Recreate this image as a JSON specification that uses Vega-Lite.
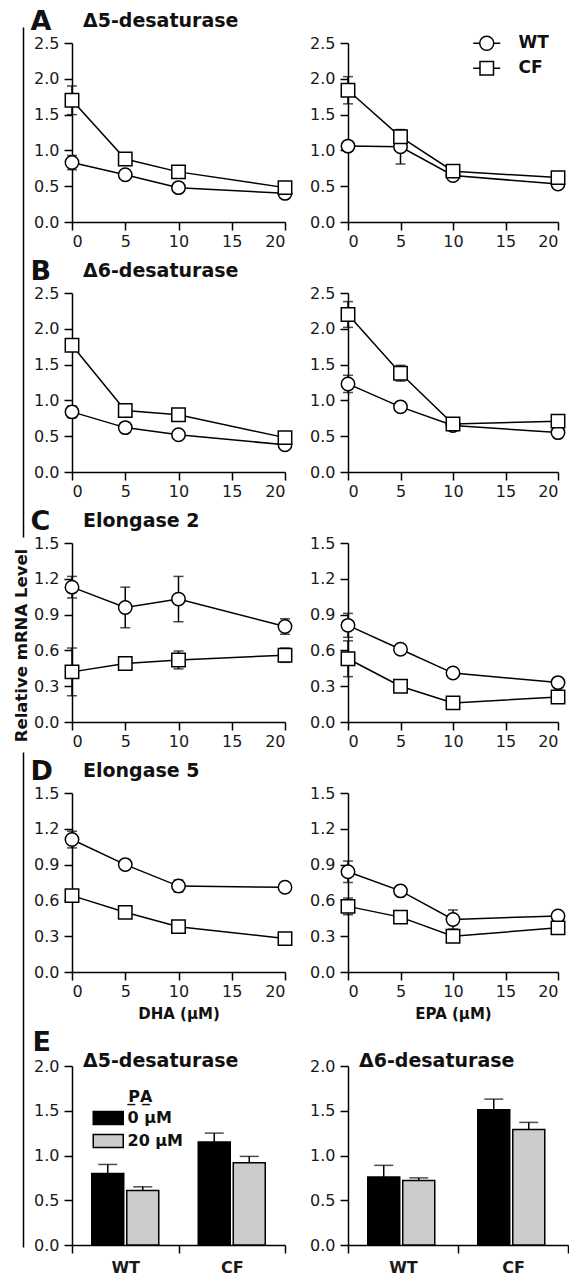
{
  "$schema": "https://vega.github.io/schema/vega-lite/v6.json",
  "background": "white",
  "padding": {"left": 13, "top": 7, "right": 0, "bottom": 0},
  "config": {
    "font": "DejaVu Sans",
    "view": {"stroke": null},
    "axis": {
      "labelFont": "DejaVu Sans", "labelFontSize": 16, "labelColor": "#1a1a1a",
      "titleFont": "DejaVu Sans", "titleColor": "#111111",
      "domainColor": "black", "domainWidth": 1.5,
      "tickColor": "black", "tickWidth": 1.5, "tickSize": 8, "grid": false
    },
    "axisX": {"labelPadding": 3},
    "axisY": {"labelPadding": 5},
    "title": {"font": "DejaVu Sans", "fontSize": 19, "fontWeight": "bold", "color": "#111111", "anchor": "start", "frame": "group", "baseline": "alphabetic"}
  },
  "datasets": {
    "lines": [
      {"gene": "Δ5-desaturase", "fa": "DHA", "cell": "WT", "conc": 0, "mean": 0.83, "err": 0.10},
      {"gene": "Δ5-desaturase", "fa": "DHA", "cell": "WT", "conc": 5, "mean": 0.66, "err": 0.03},
      {"gene": "Δ5-desaturase", "fa": "DHA", "cell": "WT", "conc": 10, "mean": 0.48, "err": 0.03},
      {"gene": "Δ5-desaturase", "fa": "DHA", "cell": "WT", "conc": 20, "mean": 0.40, "err": 0.02},
      {"gene": "Δ5-desaturase", "fa": "DHA", "cell": "CF", "conc": 0, "mean": 1.70, "err": 0.20},
      {"gene": "Δ5-desaturase", "fa": "DHA", "cell": "CF", "conc": 5, "mean": 0.88, "err": 0.04},
      {"gene": "Δ5-desaturase", "fa": "DHA", "cell": "CF", "conc": 10, "mean": 0.70, "err": 0.03},
      {"gene": "Δ5-desaturase", "fa": "DHA", "cell": "CF", "conc": 20, "mean": 0.48, "err": 0.03},
      {"gene": "Δ5-desaturase", "fa": "EPA", "cell": "WT", "conc": 0, "mean": 1.06, "err": 0.05},
      {"gene": "Δ5-desaturase", "fa": "EPA", "cell": "WT", "conc": 5, "mean": 1.05, "err": 0.24},
      {"gene": "Δ5-desaturase", "fa": "EPA", "cell": "WT", "conc": 10, "mean": 0.65, "err": 0.03},
      {"gene": "Δ5-desaturase", "fa": "EPA", "cell": "WT", "conc": 20, "mean": 0.53, "err": 0.02},
      {"gene": "Δ5-desaturase", "fa": "EPA", "cell": "CF", "conc": 0, "mean": 1.84, "err": 0.19},
      {"gene": "Δ5-desaturase", "fa": "EPA", "cell": "CF", "conc": 5, "mean": 1.19, "err": 0.10},
      {"gene": "Δ5-desaturase", "fa": "EPA", "cell": "CF", "conc": 10, "mean": 0.71, "err": 0.03},
      {"gene": "Δ5-desaturase", "fa": "EPA", "cell": "CF", "conc": 20, "mean": 0.62, "err": 0.03},
      {"gene": "Δ6-desaturase", "fa": "DHA", "cell": "WT", "conc": 0, "mean": 0.84, "err": 0.08},
      {"gene": "Δ6-desaturase", "fa": "DHA", "cell": "WT", "conc": 5, "mean": 0.62, "err": 0.03},
      {"gene": "Δ6-desaturase", "fa": "DHA", "cell": "WT", "conc": 10, "mean": 0.52, "err": 0.02},
      {"gene": "Δ6-desaturase", "fa": "DHA", "cell": "WT", "conc": 20, "mean": 0.38, "err": 0.02},
      {"gene": "Δ6-desaturase", "fa": "DHA", "cell": "CF", "conc": 0, "mean": 1.77, "err": 0.07},
      {"gene": "Δ6-desaturase", "fa": "DHA", "cell": "CF", "conc": 5, "mean": 0.86, "err": 0.03},
      {"gene": "Δ6-desaturase", "fa": "DHA", "cell": "CF", "conc": 10, "mean": 0.80, "err": 0.03},
      {"gene": "Δ6-desaturase", "fa": "DHA", "cell": "CF", "conc": 20, "mean": 0.48, "err": 0.03},
      {"gene": "Δ6-desaturase", "fa": "EPA", "cell": "WT", "conc": 0, "mean": 1.23, "err": 0.12},
      {"gene": "Δ6-desaturase", "fa": "EPA", "cell": "WT", "conc": 5, "mean": 0.91, "err": 0.03},
      {"gene": "Δ6-desaturase", "fa": "EPA", "cell": "WT", "conc": 10, "mean": 0.65, "err": 0.03},
      {"gene": "Δ6-desaturase", "fa": "EPA", "cell": "WT", "conc": 20, "mean": 0.55, "err": 0.02},
      {"gene": "Δ6-desaturase", "fa": "EPA", "cell": "CF", "conc": 0, "mean": 2.20, "err": 0.18},
      {"gene": "Δ6-desaturase", "fa": "EPA", "cell": "CF", "conc": 5, "mean": 1.38, "err": 0.11},
      {"gene": "Δ6-desaturase", "fa": "EPA", "cell": "CF", "conc": 10, "mean": 0.67, "err": 0.03},
      {"gene": "Δ6-desaturase", "fa": "EPA", "cell": "CF", "conc": 20, "mean": 0.71, "err": 0.03},
      {"gene": "Elongase 2", "fa": "DHA", "cell": "WT", "conc": 0, "mean": 1.13, "err": 0.09},
      {"gene": "Elongase 2", "fa": "DHA", "cell": "WT", "conc": 5, "mean": 0.96, "err": 0.17},
      {"gene": "Elongase 2", "fa": "DHA", "cell": "WT", "conc": 10, "mean": 1.03, "err": 0.19},
      {"gene": "Elongase 2", "fa": "DHA", "cell": "WT", "conc": 20, "mean": 0.80, "err": 0.065},
      {"gene": "Elongase 2", "fa": "DHA", "cell": "CF", "conc": 0, "mean": 0.42, "err": 0.20},
      {"gene": "Elongase 2", "fa": "DHA", "cell": "CF", "conc": 5, "mean": 0.49, "err": 0.03},
      {"gene": "Elongase 2", "fa": "DHA", "cell": "CF", "conc": 10, "mean": 0.52, "err": 0.075},
      {"gene": "Elongase 2", "fa": "DHA", "cell": "CF", "conc": 20, "mean": 0.56, "err": 0.06},
      {"gene": "Elongase 2", "fa": "EPA", "cell": "WT", "conc": 0, "mean": 0.81, "err": 0.10},
      {"gene": "Elongase 2", "fa": "EPA", "cell": "WT", "conc": 5, "mean": 0.61, "err": 0.03},
      {"gene": "Elongase 2", "fa": "EPA", "cell": "WT", "conc": 10, "mean": 0.41, "err": 0.03},
      {"gene": "Elongase 2", "fa": "EPA", "cell": "WT", "conc": 20, "mean": 0.33, "err": 0.03},
      {"gene": "Elongase 2", "fa": "EPA", "cell": "CF", "conc": 0, "mean": 0.53, "err": 0.15},
      {"gene": "Elongase 2", "fa": "EPA", "cell": "CF", "conc": 5, "mean": 0.30, "err": 0.05},
      {"gene": "Elongase 2", "fa": "EPA", "cell": "CF", "conc": 10, "mean": 0.16, "err": 0.02},
      {"gene": "Elongase 2", "fa": "EPA", "cell": "CF", "conc": 20, "mean": 0.21, "err": 0.03},
      {"gene": "Elongase 5", "fa": "DHA", "cell": "WT", "conc": 0, "mean": 1.11, "err": 0.07},
      {"gene": "Elongase 5", "fa": "DHA", "cell": "WT", "conc": 5, "mean": 0.90, "err": 0.04},
      {"gene": "Elongase 5", "fa": "DHA", "cell": "WT", "conc": 10, "mean": 0.72, "err": 0.05},
      {"gene": "Elongase 5", "fa": "DHA", "cell": "WT", "conc": 20, "mean": 0.71, "err": 0.03},
      {"gene": "Elongase 5", "fa": "DHA", "cell": "CF", "conc": 0, "mean": 0.64, "err": 0.04},
      {"gene": "Elongase 5", "fa": "DHA", "cell": "CF", "conc": 5, "mean": 0.50, "err": 0.04},
      {"gene": "Elongase 5", "fa": "DHA", "cell": "CF", "conc": 10, "mean": 0.38, "err": 0.03},
      {"gene": "Elongase 5", "fa": "DHA", "cell": "CF", "conc": 20, "mean": 0.28, "err": 0.02},
      {"gene": "Elongase 5", "fa": "EPA", "cell": "WT", "conc": 0, "mean": 0.84, "err": 0.09},
      {"gene": "Elongase 5", "fa": "EPA", "cell": "WT", "conc": 5, "mean": 0.68, "err": 0.03},
      {"gene": "Elongase 5", "fa": "EPA", "cell": "WT", "conc": 10, "mean": 0.44, "err": 0.08},
      {"gene": "Elongase 5", "fa": "EPA", "cell": "WT", "conc": 20, "mean": 0.47, "err": 0.03},
      {"gene": "Elongase 5", "fa": "EPA", "cell": "CF", "conc": 0, "mean": 0.55, "err": 0.07},
      {"gene": "Elongase 5", "fa": "EPA", "cell": "CF", "conc": 5, "mean": 0.46, "err": 0.05},
      {"gene": "Elongase 5", "fa": "EPA", "cell": "CF", "conc": 10, "mean": 0.30, "err": 0.05},
      {"gene": "Elongase 5", "fa": "EPA", "cell": "CF", "conc": 20, "mean": 0.37, "err": 0.04}
    ],
    "bars": [
      {"gene": "Δ5-desaturase", "cell": "WT", "pa": "0 μM", "mean": 0.80, "err": 0.10},
      {"gene": "Δ5-desaturase", "cell": "WT", "pa": "20 μM", "mean": 0.61, "err": 0.04},
      {"gene": "Δ5-desaturase", "cell": "CF", "pa": "0 μM", "mean": 1.15, "err": 0.10},
      {"gene": "Δ5-desaturase", "cell": "CF", "pa": "20 μM", "mean": 0.92, "err": 0.07},
      {"gene": "Δ6-desaturase", "cell": "WT", "pa": "0 μM", "mean": 0.76, "err": 0.13},
      {"gene": "Δ6-desaturase", "cell": "WT", "pa": "20 μM", "mean": 0.72, "err": 0.03},
      {"gene": "Δ6-desaturase", "cell": "CF", "pa": "0 μM", "mean": 1.51, "err": 0.12},
      {"gene": "Δ6-desaturase", "cell": "CF", "pa": "20 μM", "mean": 1.29, "err": 0.08}
    ]
  },
  "columns": 2,
  "spacing": {"row": 71, "column": 63},
  "bounds": "flush",
  "align": "each",
  "resolve": {
    "scale": {"shape": "independent", "fill": "independent"},
    "legend": {"shape": "independent", "fill": "independent"}
  },
  "concat": [
    {
      "width": 213, "height": 179,
      "title": {"text": "Δ5-desaturase", "dx": 11, "offset": -24},
      "resolve": {"scale": {"y": "independent"}},
      "layer": [
        {
          "data": {"name": "lines"},
          "transform": [{"filter": "datum.gene === 'Δ5-desaturase' && datum.fa === 'DHA'"}],
          "encoding": {
            "x": {"field": "conc", "type": "quantitative", "scale": {"domain": [0, 20], "nice": false}, "axis": {"values": [0, 5, 10, 15, 20], "title": null}},
            "y": {"field": "mean", "type": "quantitative", "scale": {"domain": [0, 2.5], "nice": false}, "axis": {"values": [0, 0.5, 1, 1.5, 2, 2.5], "format": ".1f", "title": "A", "titleAngle": 0, "titleX": -42, "titleY": -14, "titleAlign": "left", "titleBaseline": "alphabetic", "titleFontSize": 27, "titleFontWeight": "bold"}}
          },
          "layer": [
            {"mark": {"type": "line", "color": "black", "strokeWidth": 1.5}, "encoding": {"detail": {"field": "cell"}}},
            {"mark": {"type": "errorbar", "ticks": true, "size": 10, "thickness": 1.5, "color": "black"}, "encoding": {"yError": {"field": "err"}, "detail": {"field": "cell"}}},
            {"mark": {"type": "point", "filled": true, "fill": "white", "stroke": "black", "strokeWidth": 1.5, "size": 180, "opacity": 1}, "encoding": {"shape": {"field": "cell", "type": "nominal", "scale": {"domain": ["WT", "CF"], "range": ["circle", "square"]}, "legend": null}}}
          ]
        },
        {
          "data": {"values": [{}]},
          "mark": {"type": "point", "opacity": 0, "size": 0},
          "encoding": {
            "y": {"datum": 0, "type": "quantitative", "scale": {"domain": [0, 1], "range": [1204, -16]}, "axis": {"orient": "left", "offset": 49, "labels": false, "ticks": false, "grid": false, "domainDash": [495, 215, 1000, 0], "domainWidth": 1.5, "title": "Relative mRNA Level", "titleFontSize": 16.5, "titleFontWeight": "bold", "titleAngle": 270, "titleX": -1.5, "titleY": 602, "titleAlign": "center", "titleBaseline": "middle"}}
          }
        }
      ]
    },
    {
      "width": 210, "height": 179,
      "resolve": {"scale": {"fill": "independent"}, "legend": {"fill": "independent"}},
      "layer": [
        {
          "data": {"name": "lines"},
          "transform": [{"filter": "datum.gene === 'Δ5-desaturase' && datum.fa === 'EPA'"}],
          "encoding": {
            "x": {"field": "conc", "type": "quantitative", "scale": {"domain": [0, 20], "nice": false}, "axis": {"values": [0, 5, 10, 15, 20], "title": null}},
            "y": {"field": "mean", "type": "quantitative", "scale": {"domain": [0, 2.5], "nice": false}, "axis": {"values": [0, 0.5, 1, 1.5, 2, 2.5], "format": ".1f", "title": null}}
          },
          "layer": [
            {"mark": {"type": "line", "color": "black", "strokeWidth": 1.5}, "encoding": {"detail": {"field": "cell"}}},
            {"mark": {"type": "errorbar", "ticks": true, "size": 10, "thickness": 1.5, "color": "black"}, "encoding": {"yError": {"field": "err"}, "detail": {"field": "cell"}}},
            {"mark": {"type": "point", "filled": true, "fill": "white", "stroke": "black", "strokeWidth": 1.5, "size": 180, "opacity": 1}, "encoding": {"shape": {"field": "cell", "type": "nominal", "scale": {"domain": ["WT", "CF"], "range": ["circle", "square"]}, "legend": null}}}
          ]
        },
        {
          "data": {"name": "lines"},
          "transform": [{"filter": "false"}],
          "mark": {"type": "bar", "stroke": "black", "strokeWidth": 1.5},
          "encoding": {
            "fill": {"field": "cell", "type": "nominal", "scale": {"domain": ["WT"], "range": ["white"]},
              "legend": {"orient": "none", "legendX": 124.25, "legendY": -14.25, "title": null, "padding": 0, "symbolSize": 729, "symbolType": "M-1,0L-0.52,0M0.52,0L1,0M-0.52,0A0.52,0.52,0,1,0,0.52,0A0.52,0.52,0,1,0,-0.52,0Z", "symbolStrokeWidth": 1.5, "symbolStrokeColor": "black", "labelFont": "DejaVu Sans", "labelFontSize": 17, "labelFontWeight": "bold", "labelColor": "#111111", "labelOffset": 17.25,
                "encode": {"symbols": {"update": {"shape": {"value": "M-1,0L-0.52,0M0.52,0L1,0M-0.52,0A0.52,0.52,0,1,0,0.52,0A0.52,0.52,0,1,0,-0.52,0Z"}, "stroke": {"value": "black"}, "strokeWidth": {"value": 1.5}, "opacity": {"value": 1}}}}}}
          }
        },
        {
          "data": {"name": "lines"},
          "transform": [{"filter": "false"}],
          "mark": {"type": "bar", "stroke": "black", "strokeWidth": 1.5},
          "encoding": {
            "fill": {"field": "cell", "type": "nominal", "scale": {"domain": ["CF"], "range": ["white"]},
              "legend": {"orient": "none", "legendX": 124.25, "legendY": 10.75, "title": null, "padding": 0, "symbolSize": 729, "symbolType": "M-1,0L-0.5,0M0.5,0L1,0M-0.5,-0.5L0.5,-0.5L0.5,0.5L-0.5,0.5Z", "symbolStrokeWidth": 1.5, "symbolStrokeColor": "black", "labelFont": "DejaVu Sans", "labelFontSize": 17, "labelFontWeight": "bold", "labelColor": "#111111", "labelOffset": 17.25,
                "encode": {"symbols": {"update": {"shape": {"value": "M-1,0L-0.5,0M0.5,0L1,0M-0.5,-0.5L0.5,-0.5L0.5,0.5L-0.5,0.5Z"}, "stroke": {"value": "black"}, "strokeWidth": {"value": 1.5}, "opacity": {"value": 1}}}}}}
          }
        }
      ]
    },
    {
      "width": 213, "height": 179,
      "title": {"text": "Δ6-desaturase", "dx": 11, "offset": -24},
      "data": {"name": "lines"},
      "transform": [{"filter": "datum.gene === 'Δ6-desaturase' && datum.fa === 'DHA'"}],
      "encoding": {
        "x": {"field": "conc", "type": "quantitative", "scale": {"domain": [0, 20], "nice": false}, "axis": {"values": [0, 5, 10, 15, 20], "title": null}},
        "y": {"field": "mean", "type": "quantitative", "scale": {"domain": [0, 2.5], "nice": false}, "axis": {"values": [0, 0.5, 1, 1.5, 2, 2.5], "format": ".1f", "title": "B", "titleAngle": 0, "titleX": -42, "titleY": -14, "titleAlign": "left", "titleBaseline": "alphabetic", "titleFontSize": 27, "titleFontWeight": "bold"}}
      },
      "layer": [
        {"mark": {"type": "line", "color": "black", "strokeWidth": 1.5}, "encoding": {"detail": {"field": "cell"}}},
        {"mark": {"type": "errorbar", "ticks": true, "size": 10, "thickness": 1.5, "color": "black"}, "encoding": {"yError": {"field": "err"}, "detail": {"field": "cell"}}},
        {"mark": {"type": "point", "filled": true, "fill": "white", "stroke": "black", "strokeWidth": 1.5, "size": 180, "opacity": 1}, "encoding": {"shape": {"field": "cell", "type": "nominal", "scale": {"domain": ["WT", "CF"], "range": ["circle", "square"]}, "legend": null}}}
      ]
    },
    {
      "width": 210, "height": 179,
      "data": {"name": "lines"},
      "transform": [{"filter": "datum.gene === 'Δ6-desaturase' && datum.fa === 'EPA'"}],
      "encoding": {
        "x": {"field": "conc", "type": "quantitative", "scale": {"domain": [0, 20], "nice": false}, "axis": {"values": [0, 5, 10, 15, 20], "title": null}},
        "y": {"field": "mean", "type": "quantitative", "scale": {"domain": [0, 2.5], "nice": false}, "axis": {"values": [0, 0.5, 1, 1.5, 2, 2.5], "format": ".1f", "title": null}}
      },
      "layer": [
        {"mark": {"type": "line", "color": "black", "strokeWidth": 1.5}, "encoding": {"detail": {"field": "cell"}}},
        {"mark": {"type": "errorbar", "ticks": true, "size": 10, "thickness": 1.5, "color": "black"}, "encoding": {"yError": {"field": "err"}, "detail": {"field": "cell"}}},
        {"mark": {"type": "point", "filled": true, "fill": "white", "stroke": "black", "strokeWidth": 1.5, "size": 180, "opacity": 1}, "encoding": {"shape": {"field": "cell", "type": "nominal", "scale": {"domain": ["WT", "CF"], "range": ["circle", "square"]}, "legend": null}}}
      ]
    },
    {
      "width": 213, "height": 179,
      "title": {"text": "Elongase 2", "dx": 11, "offset": -24},
      "data": {"name": "lines"},
      "transform": [{"filter": "datum.gene === 'Elongase 2' && datum.fa === 'DHA'"}],
      "encoding": {
        "x": {"field": "conc", "type": "quantitative", "scale": {"domain": [0, 20], "nice": false}, "axis": {"values": [0, 5, 10, 15, 20], "title": null}},
        "y": {"field": "mean", "type": "quantitative", "scale": {"domain": [0, 1.5], "nice": false}, "axis": {"values": [0, 0.3, 0.6, 0.9, 1.2, 1.5], "format": ".1f", "title": "C", "titleAngle": 0, "titleX": -42, "titleY": -14, "titleAlign": "left", "titleBaseline": "alphabetic", "titleFontSize": 27, "titleFontWeight": "bold"}}
      },
      "layer": [
        {"mark": {"type": "line", "color": "black", "strokeWidth": 1.5}, "encoding": {"detail": {"field": "cell"}}},
        {"mark": {"type": "errorbar", "ticks": true, "size": 10, "thickness": 1.5, "color": "black"}, "encoding": {"yError": {"field": "err"}, "detail": {"field": "cell"}}},
        {"mark": {"type": "point", "filled": true, "fill": "white", "stroke": "black", "strokeWidth": 1.5, "size": 180, "opacity": 1}, "encoding": {"shape": {"field": "cell", "type": "nominal", "scale": {"domain": ["WT", "CF"], "range": ["circle", "square"]}, "legend": null}}}
      ]
    },
    {
      "width": 210, "height": 179,
      "data": {"name": "lines"},
      "transform": [{"filter": "datum.gene === 'Elongase 2' && datum.fa === 'EPA'"}],
      "encoding": {
        "x": {"field": "conc", "type": "quantitative", "scale": {"domain": [0, 20], "nice": false}, "axis": {"values": [0, 5, 10, 15, 20], "title": null}},
        "y": {"field": "mean", "type": "quantitative", "scale": {"domain": [0, 1.5], "nice": false}, "axis": {"values": [0, 0.3, 0.6, 0.9, 1.2, 1.5], "format": ".1f", "title": null}}
      },
      "layer": [
        {"mark": {"type": "line", "color": "black", "strokeWidth": 1.5}, "encoding": {"detail": {"field": "cell"}}},
        {"mark": {"type": "errorbar", "ticks": true, "size": 10, "thickness": 1.5, "color": "black"}, "encoding": {"yError": {"field": "err"}, "detail": {"field": "cell"}}},
        {"mark": {"type": "point", "filled": true, "fill": "white", "stroke": "black", "strokeWidth": 1.5, "size": 180, "opacity": 1}, "encoding": {"shape": {"field": "cell", "type": "nominal", "scale": {"domain": ["WT", "CF"], "range": ["circle", "square"]}, "legend": null}}}
      ]
    },
    {
      "width": 213, "height": 179,
      "title": {"text": "Elongase 5", "dx": 11, "offset": -24},
      "data": {"name": "lines"},
      "transform": [{"filter": "datum.gene === 'Elongase 5' && datum.fa === 'DHA'"}],
      "encoding": {
        "x": {"field": "conc", "type": "quantitative", "scale": {"domain": [0, 20], "nice": false}, "axis": {"values": [0, 5, 10, 15, 20], "title": "DHA (μM)", "titleFontSize": 15, "titleFontWeight": "bold", "titlePadding": 7}},
        "y": {"field": "mean", "type": "quantitative", "scale": {"domain": [0, 1.5], "nice": false}, "axis": {"values": [0, 0.3, 0.6, 0.9, 1.2, 1.5], "format": ".1f", "title": "D", "titleAngle": 0, "titleX": -42, "titleY": -14, "titleAlign": "left", "titleBaseline": "alphabetic", "titleFontSize": 27, "titleFontWeight": "bold"}}
      },
      "layer": [
        {"mark": {"type": "line", "color": "black", "strokeWidth": 1.5}, "encoding": {"detail": {"field": "cell"}}},
        {"mark": {"type": "errorbar", "ticks": true, "size": 10, "thickness": 1.5, "color": "black"}, "encoding": {"yError": {"field": "err"}, "detail": {"field": "cell"}}},
        {"mark": {"type": "point", "filled": true, "fill": "white", "stroke": "black", "strokeWidth": 1.5, "size": 180, "opacity": 1}, "encoding": {"shape": {"field": "cell", "type": "nominal", "scale": {"domain": ["WT", "CF"], "range": ["circle", "square"]}, "legend": null}}}
      ]
    },
    {
      "width": 210, "height": 179,
      "data": {"name": "lines"},
      "transform": [{"filter": "datum.gene === 'Elongase 5' && datum.fa === 'EPA'"}],
      "encoding": {
        "x": {"field": "conc", "type": "quantitative", "scale": {"domain": [0, 20], "nice": false}, "axis": {"values": [0, 5, 10, 15, 20], "title": "EPA (μM)", "titleFontSize": 15, "titleFontWeight": "bold", "titlePadding": 7}},
        "y": {"field": "mean", "type": "quantitative", "scale": {"domain": [0, 1.5], "nice": false}, "axis": {"values": [0, 0.3, 0.6, 0.9, 1.2, 1.5], "format": ".1f", "title": null}}
      },
      "layer": [
        {"mark": {"type": "line", "color": "black", "strokeWidth": 1.5}, "encoding": {"detail": {"field": "cell"}}},
        {"mark": {"type": "errorbar", "ticks": true, "size": 10, "thickness": 1.5, "color": "black"}, "encoding": {"yError": {"field": "err"}, "detail": {"field": "cell"}}},
        {"mark": {"type": "point", "filled": true, "fill": "white", "stroke": "black", "strokeWidth": 1.5, "size": 180, "opacity": 1}, "encoding": {"shape": {"field": "cell", "type": "nominal", "scale": {"domain": ["WT", "CF"], "range": ["circle", "square"]}, "legend": null}}}
      ]
    },
    {
      "width": 213, "height": 202,
      "title": {"text": "Δ5-desaturase", "dx": 11, "offset": -43},
      "data": {"name": "bars"},
      "transform": [{"filter": "datum.gene === 'Δ5-desaturase'"}],
      "encoding": {
        "x": {"field": "cell", "type": "nominal", "sort": ["WT", "CF"], "scale": {"paddingInner": 0, "paddingOuter": 0}, "axis": {"title": null, "labelAngle": 0, "tickBand": "extent", "labelFontWeight": "bold", "labelPadding": 6}},
        "xOffset": {"field": "pa", "type": "nominal", "sort": ["0 μM", "20 μM"], "scale": {"paddingInner": 0.086, "paddingOuter": 0.564}},
        "y": {"field": "mean", "type": "quantitative", "scale": {"domain": [0, 2], "nice": false, "range": [202, 23]}, "axis": {"values": [0, 0.5, 1, 1.5, 2], "format": ".1f", "title": "E", "titleAngle": 0, "titleX": -40, "titleY": 7, "titleAlign": "left", "titleBaseline": "alphabetic", "titleFontSize": 27, "titleFontWeight": "bold"}}
      },
      "layer": [
        {"mark": {"type": "errorbar", "ticks": true, "size": 19, "thickness": 1.5, "color": "black"}, "encoding": {"yError": {"field": "err"}}},
        {"mark": {"type": "bar", "stroke": "black", "strokeWidth": 1.5},
         "encoding": {"fill": {"field": "pa", "type": "nominal", "sort": ["0 μM", "20 μM"], "scale": {"domain": ["0 μM", "20 μM"], "range": ["#000000", "#cccccc"]},
           "legend": {"orient": "none", "legendX": 25.25, "legendY": 46, "title": "P̲A̲", "titleFont": "DejaVu Sans", "titleFontSize": 16, "titleFontWeight": "bold", "titleColor": "#111111", "titleAnchor": "middle", "titlePadding": 2, "padding": 0,
             "symbolSize": 400, "symbolStrokeColor": "black", "symbolStrokeWidth": 1.5, "labelFont": "DejaVu Sans", "labelFontSize": 16, "labelFontWeight": "bold", "labelColor": "#111111", "labelOffset": 8.25, "rowPadding": 2,
             "encode": {"symbols": {"update": {"shape": {"value": "M-1.5,-0.65L1.5,-0.65L1.5,0.65L-1.5,0.65Z"}, "stroke": {"value": "black"}, "strokeWidth": {"value": 1.5}, "opacity": {"value": 1}}}}}}}}
      ]
    },
    {
      "width": 220, "height": 202,
      "title": {"text": "Δ6-desaturase", "dx": 11, "offset": -28},
      "data": {"name": "bars"},
      "transform": [{"filter": "datum.gene === 'Δ6-desaturase'"}],
      "encoding": {
        "x": {"field": "cell", "type": "nominal", "sort": ["WT", "CF"], "scale": {"paddingInner": 0, "paddingOuter": 0}, "axis": {"title": null, "labelAngle": 0, "tickBand": "extent", "labelFontWeight": "bold", "labelPadding": 6}},
        "xOffset": {"field": "pa", "type": "nominal", "sort": ["0 μM", "20 μM"], "scale": {"paddingInner": 0.086, "paddingOuter": 0.564}},
        "y": {"field": "mean", "type": "quantitative", "scale": {"domain": [0, 2], "nice": false, "range": [202, 23]}, "axis": {"values": [0, 0.5, 1, 1.5, 2], "format": ".1f", "title": null}}
      },
      "layer": [
        {"mark": {"type": "errorbar", "ticks": true, "size": 19, "thickness": 1.5, "color": "black"}, "encoding": {"yError": {"field": "err"}}},
        {"mark": {"type": "bar", "stroke": "black", "strokeWidth": 1.5},
         "encoding": {"fill": {"field": "pa", "type": "nominal", "sort": ["0 μM", "20 μM"], "scale": {"domain": ["0 μM", "20 μM"], "range": ["#000000", "#cccccc"]}, "legend": null}}}
      ]
    }
  ]
}
